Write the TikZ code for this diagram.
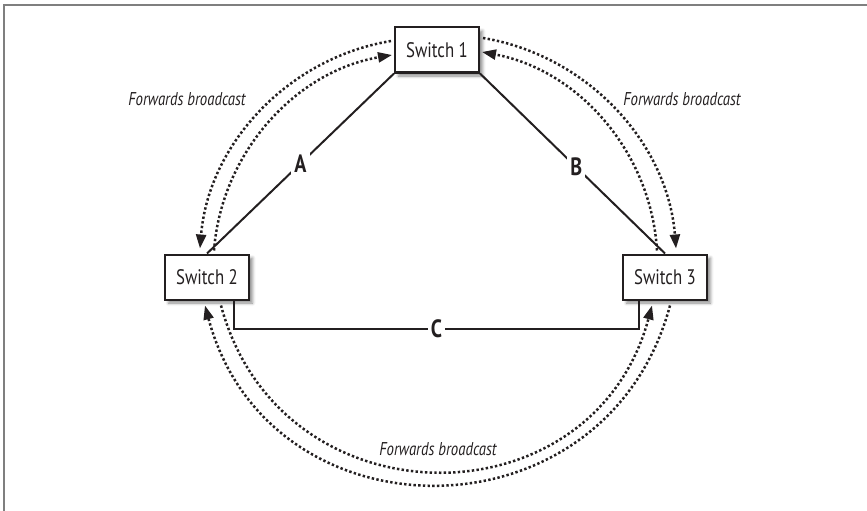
\documentclass[tikz,border=0pt]{standalone}
\usepackage{fontspec}
\setmainfont{PT Sans}[FakeStretch=0.8]
\usetikzlibrary{arrows.meta,shadows.blur,calc}
\definecolor{framegray}{HTML}{7F7F7F}
\definecolor{inkgray}{HTML}{231F20}

\begin{document}
\begin{tikzpicture}[x=1pt,y=-1pt,
  switchbox/.style={draw=inkgray,line width=2pt,fill=white,
    minimum width=84pt,minimum height=45pt,inner sep=0pt,
    text=inkgray,font=\fontsize{21}{21}\selectfont,
    blur shadow={shadow xshift=3.5pt,shadow yshift=-3.5pt,
      shadow blur radius=3pt,shadow opacity=45}},
  link/.style={draw=inkgray,line width=2pt},
  linklabel/.style={fill=white,inner sep=3pt,text=inkgray,
    font=\bfseries\fontsize{25}{25}\selectfont},
  bcast/.style={draw=inkgray,line width=2.5pt,dash pattern=on 2.4pt off 2.3pt,
    -{Triangle[length=14pt,width=10pt]}},
  bcastlabel/.style={text=inkgray,font=\itshape\fontsize{18.5}{18.5}\selectfont},
  frameline/.style={line width=2pt,draw=framegray}]

\useasboundingbox (0,0) rectangle (867,511);

% partial frame (top and left edges)
\draw[frameline] (4,511) -- (4,5) -- (867,5);

% switches
\node[switchbox] (s1) at (437,50)  {Switch 1};
\node[switchbox] (s2) at (207,277) {Switch 2};
\node[switchbox] (s3) at (665,277) {Switch 3};

% physical links
\draw[link] (s1.south west) -- node[linklabel,pos=0.5] (la) {A} (s2.north);
\draw[link] (s1.south east) -- node[linklabel,pos=0.52] (lb) {B} (s3.north);
\coordinate (c2) at ($(s2.south)+(27,0)$);
\coordinate (c3) at ($(s3.south)+(-26,0)$);
\draw[link] (c2) -- ($(c2)+(0,28)$) -- node[linklabel] (lc) {C} ($(c3)+(0,28)$) -- (c3);

% broadcast path end points
\coordinate (lo1) at ($(s1.west)+(-3,-9)$);
\coordinate (lo2) at ($(s2.north)+(-7,-5)$);
\coordinate (li2) at ($(s2.north)+(7,-3)$);
\coordinate (li1) at ($(s1.west)+(-2,5)$);
\coordinate (ro1) at ($(s1.east)+(3,-12)$);
\coordinate (ro3) at ($(s3.north)+(11,-5)$);
\coordinate (ri3) at ($(s3.north)+(-8,-3)$);
\coordinate (ri1) at ($(s1.east)+(2,2)$);
\coordinate (bo3) at ($(s3.south)+(5,5)$);
\coordinate (bo2) at ($(s2.south)+(-2,5)$);
\coordinate (bi2) at ($(s2.south)+(14,5)$);
\coordinate (bi3) at ($(s3.south)+(-13,5)$);

% broadcast flows
\draw[bcast] (lo1) to[bend right=38,looseness=0.95] (lo2);
\draw[bcast] (li2) to[bend left=38,looseness=0.95] (li1);
\draw[bcast] (ro1) to[bend left=38,looseness=0.95] (ro3);
\draw[bcast] (ri3) to[bend right=38,looseness=0.95] (ri1);
\draw[bcast] (bo3) to[bend left=75,looseness=1.36] (bo2);
\draw[bcast] (bi2) to[bend right=75,looseness=1.36] (bi3);

% broadcast labels
\node[bcastlabel] (fb1) at (187,99)  {Forwards broadcast};
\node[bcastlabel] (fb2) at (682,99)  {Forwards broadcast};
\node[bcastlabel] (fb3) at (438,449) {Forwards broadcast};
\end{tikzpicture}
\end{document}
